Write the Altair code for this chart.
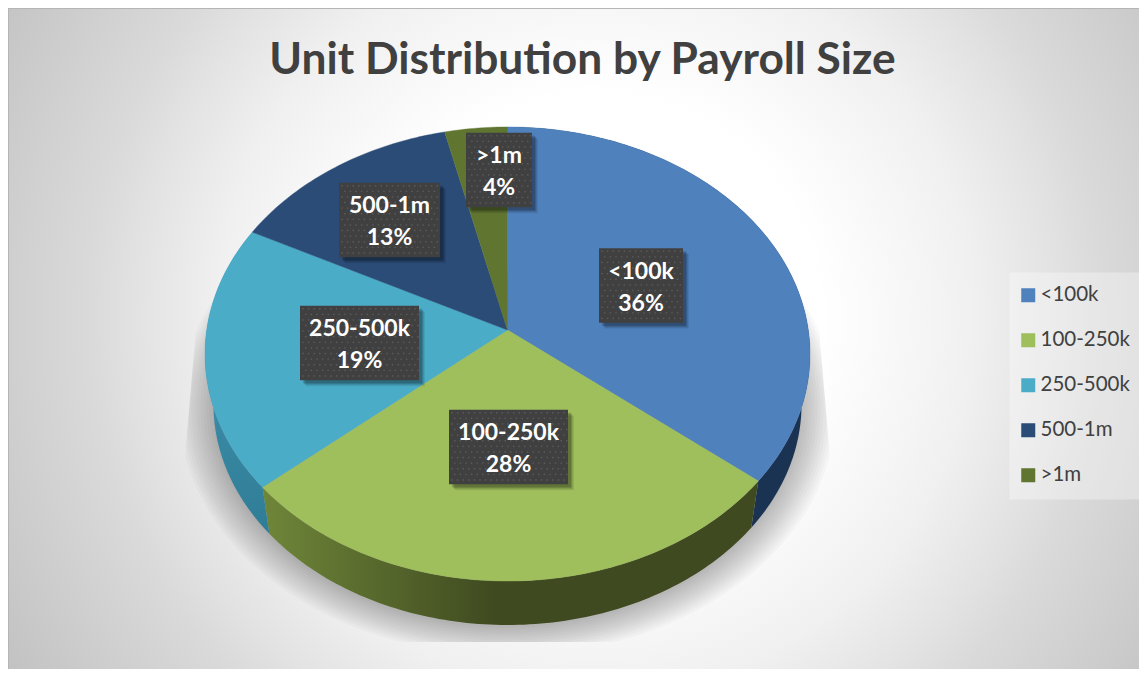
import math
import altair as alt
import pandas as pd

categories = ["<100k", "100-250k", "250-500k", "500-1m", ">1m"]
shares = [35.8, 27.9, 18.85, 13.75, 3.7]
pct_labels = ["36%", "28%", "19%", "13%", "4%"]
colors = ["#4f81bd", "#9fbe5c", "#4bacc8", "#2b4c77", "#5f7530"]

# label placement (chart pixels)
box_cx = [641, 508.5, 359.5, 389.5, 499]
box_cy = [285.5, 447, 343, 220, 170]
box_w = [84, 119, 119, 101, 66]
box_h = 74.5

W, H = 1131, 661
CX, CY, A, B, K = 507.5, 330.0, 300.8, 224.5, 0.1057
LOW_S, LOW_D = 0.972, 51.0
F = "Lato"


def rim(deg, s=1.0, d=0.0):
    t = math.radians(deg)
    w = 1 + K * math.cos(t)
    return CX + s * A * math.sin(t) / w, CY - s * B * math.cos(t) / w + d


def arc(a0, a1, s=1.0, d=0.0):
    n = max(2, int(abs(a1 - a0)))
    return [rim(a0 + (a1 - a0) * i / n, s, d) for i in range(n + 1)]


def frame(points, name=""):
    return pd.DataFrame(
        [{"px": p[0], "py": p[1], "i": i, "name": name} for i, p in enumerate(points)]
    )


xs = alt.Scale(domain=[8, 8 + W], nice=False, zero=False)
ys = alt.Scale(domain=[8 + H, 8], nice=False, zero=False)
X = alt.X("px:Q", scale=xs, axis=None)
Y = alt.Y("py:Q", scale=ys, axis=None)

edges = [0.0]
for v in shares:
    edges.append(edges[-1] + v * 3.6)

layers = []

# background: the rect runs past the bottom so the glow is taller than wide
bg = alt.Chart(pd.DataFrame({"a": [0]})).mark_rect(
    fill=alt.RadialGradient(
        gradient="radial", x1=0.52, y1=0.332, r1=0.0, x2=0.52, y2=0.332, r2=0.62,
        stops=[
            alt.GradientStop(color="#ffffff", offset=0.0),
            alt.GradientStop(color="#ffffff", offset=0.32),
            alt.GradientStop(color="#f5f5f5", offset=0.47),
            alt.GradientStop(color="#f0f0f0", offset=0.54),
            alt.GradientStop(color="#e9e9e9", offset=0.6),
            alt.GradientStop(color="#e2e2e2", offset=0.66),
            alt.GradientStop(color="#dadada", offset=0.72),
            alt.GradientStop(color="#cfcfcf", offset=0.84),
            alt.GradientStop(color="#c0c0c0", offset=1.0),
        ],
    ),
).encode(x=alt.value(0), x2=alt.value(W), y=alt.value(0), y2=alt.value(1000))
layers.append(bg)
layers.append(
    alt.Chart(pd.DataFrame({"a": [0]})).mark_rule(color="#b5b5b5", strokeWidth=2).encode(
        x=alt.value(0), x2=alt.value(W), y=alt.value(0)
    )
)
layers.append(
    alt.Chart(pd.DataFrame({"a": [0]})).mark_rule(color="#b5b5b5", strokeWidth=2).encode(
        x=alt.value(0), y=alt.value(0), y2=alt.value(H)
    )
)


# soft shadow, clipped to a trapezoid like the original
def clamp(p):
    x, y = p
    y = min(y, 642.0)
    left = 195 - 12 * max(0, y - 340) / 140
    right = 820 + 12 * max(0, y - 340) / 140
    return max(left, min(right, x)), y


for grow in range(34, 0, -3):
    s = LOW_S + grow / 300.0
    pts = [clamp(p) for p in arc(60, 300, s, LOW_D + 2)]
    pts.append(pts[0])
    layers.append(
        alt.Chart(frame(pts)).mark_line(
            fill="#000000", fillOpacity=0.024, strokeOpacity=0, stroke="#000000"
        ).encode(x=X, y=Y, order="i:Q")
    )


def lin(c0, c1, mid=None, vertical=False):
    stops = [alt.GradientStop(color=c0, offset=0.0)]
    if mid is not None:
        stops.append(alt.GradientStop(color=c1, offset=mid))
    stops.append(alt.GradientStop(color=c1, offset=1.0))
    return alt.LinearGradient(
        gradient="linear", x1=0, y1=0, x2=0 if vertical else 1, y2=1 if vertical else 0,
        stops=stops,
    )


wall_fill = [
    "#1b3352",
    lin("#6f8639", "#3f4a20", mid=0.47),
    lin("#4a9fbb", "#2f7c96", vertical=True),
]
for k, fill in enumerate(wall_fill):
    a0, a1 = edges[k], edges[k + 1]
    pts = arc(a0, a1) + arc(a1, a0, LOW_S, LOW_D)
    pts.append(pts[0])
    layers.append(
        alt.Chart(frame(pts)).mark_line(fill=fill, stroke="#00000000", strokeWidth=0).encode(
            x=X, y=Y, order="i:Q"
        )
    )

# top faces
face_rows = []
for k, name in enumerate(categories):
    pts = [(CX, CY)] + arc(edges[k], edges[k + 1]) + [(CX, CY)]
    face_rows.append(frame(pts, name))
faces = pd.concat(face_rows)
layers.append(
    alt.Chart(faces).mark_line(strokeWidth=0.4).encode(
        x=X,
        y=Y,
        order="i:Q",
        stroke=alt.Stroke("name:N", scale=alt.Scale(domain=categories, range=colors), legend=None),
        fill=alt.Fill(
            "name:N",
            scale=alt.Scale(domain=categories, range=colors),
            legend=alt.Legend(
                orient="none", legendX=1001, legendY=264, title=None,
                symbolType="square", symbolSize=196, symbolStrokeWidth=0,
                symbolOpacity=1, symbolOffset=-4,
                labelFont=F, labelFontSize=20.5, labelColor="#404040",
                rowPadding=24, padding=13, fillColor="#ffffff55",
                labelOffset=2, strokeColor="#00000000",
            ),
        ),
    )
)

# data-label boxes
boxes = pd.DataFrame(
    {
        "x0": [c - w / 2 for c, w in zip(box_cx, box_w)],
        "x1": [c + w / 2 for c, w in zip(box_cx, box_w)],
        "y0": [c - box_h / 2 for c in box_cy],
        "y1": [c + box_h / 2 for c in box_cy],
    }
)
for off, op in [(6, 0.07), (5, 0.09), (4, 0.12), (3, 0.16)]:
    b2 = boxes + off
    layers.append(
        alt.Chart(b2).mark_rect(fill="#000000", opacity=op).encode(
            x=alt.X("x0:Q", scale=xs, axis=None), x2="x1:Q",
            y=alt.Y("y0:Q", scale=ys, axis=None), y2="y1:Q",
        )
    )
layers.append(
    alt.Chart(boxes).mark_rect(fill="#404040").encode(
        x=alt.X("x0:Q", scale=xs, axis=None), x2="x1:Q",
        y=alt.Y("y0:Q", scale=ys, axis=None), y2="y1:Q",
    )
)

# dotted texture of the boxes
dots = []
for cx, cy, w in zip(box_cx, box_cy, box_w):
    row = 0
    yy = cy - box_h / 2 + 3
    while yy < cy + box_h / 2 - 1:
        xx = cx - w / 2 + (3 if row % 2 == 0 else 5.8)
        while xx < cx + w / 2 - 1:
            dots.append({"px": xx, "py": yy})
            xx += 5.6
        yy += 5.6
        row += 1
layers.append(
    alt.Chart(pd.DataFrame(dots)).mark_square(size=2, color="#5c5c5c", opacity=1).encode(x=X, y=Y)
)

# label text
txt = pd.DataFrame(
    {
        "px": box_cx + box_cx,
        "py": [c - 14 for c in box_cy] + [c + 18 for c in box_cy],
        "t": categories + pct_labels,
    }
)
layers.append(
    alt.Chart(txt).mark_text(
        font=F, fontWeight="bold", fontSize=23, color="#ffffff", align="center", baseline="middle"
    ).encode(x=X, y=Y, text="t:N")
)

chart = (
    alt.layer(*layers)
    .resolve_scale(fill="independent", stroke="independent")
    .properties(
        width=W,
        height=H,
        padding=0,
        autosize=alt.AutoSizeParams(type="none"),
        background="#ffffff",
        title=alt.TitleParams(
            "Unit Distribution by Payroll Size",
            font=F, fontSize=44.3, fontWeight="bold", color="#404040",
            anchor="middle", dx=9, dy=80, orient="top",
        ),
    )
    .configure_view(stroke=None)
)
chart.save("out.html", embed_options={"renderer": "svg", "actions": False})
